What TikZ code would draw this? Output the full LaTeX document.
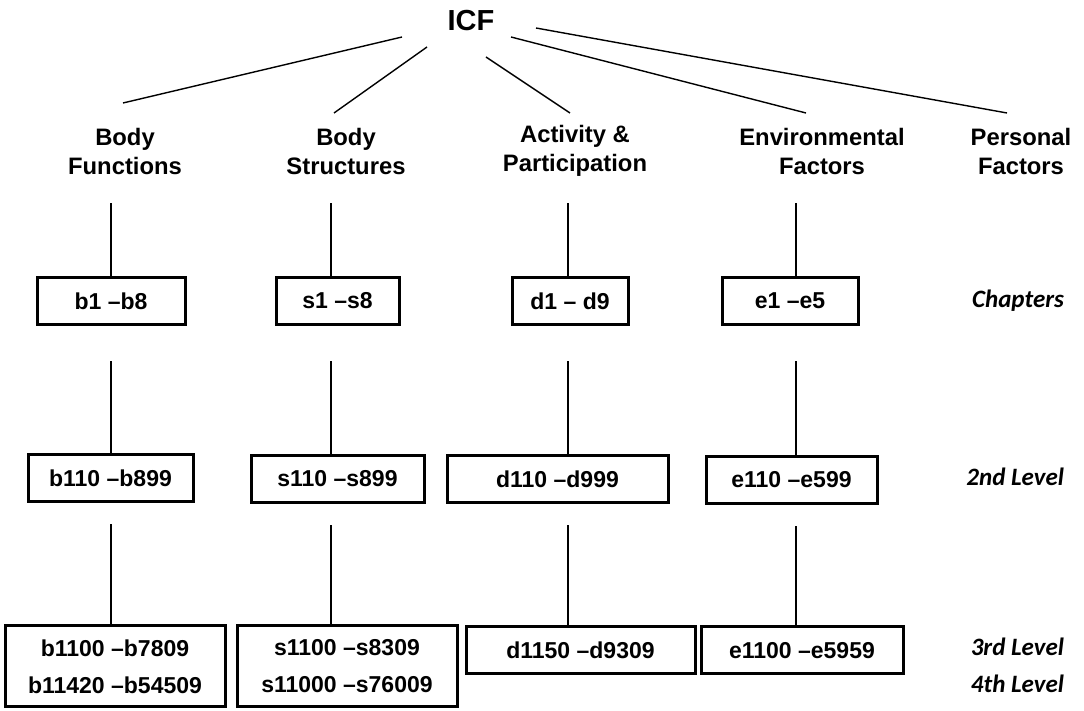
\documentclass[tikz,border=0pt]{standalone}
\usepackage{fontspec}
\setmainfont{Liberation Sans}
\newfontfamily\levelfont{Carlito}
\usepackage{tikz}
\usetikzlibrary{calc, positioning}

\begin{document}
\begin{tikzpicture}[
    x=0.5pt, y=-0.5pt,
    font=\bfseries\fontsize{11.5}{14.5}\selectfont,
    cat/.style={align=center, minimum height=52pt, inner sep=0pt, font=\bfseries\fontsize{11.9}{14.5}\selectfont},
    codebox/.style={draw, line width=1.5pt, align=center, inner sep=0pt, minimum height=23.5pt},
    twoline/.style={font=\bfseries\fontsize{11.5}{18.5}\selectfont, minimum height=40.5pt},
    lvl/.style={anchor=base east, font=\levelfont\bfseries\itshape\fontsize{12.5}{15}\selectfont},
    link/.style={line width=0.7pt}
]
    \useasboundingbox (0,0) rectangle (1084,711);

    \node (icf) at (471,21) {\fontsize{14.5}{17}\selectfont ICF};

    \node[cat] (bf) at (125,151) {Body\\Functions};
    \node[cat] (bs) at (346,151) {Body\\Structures};
    \node[cat] (ap) at (575,151) {Activity \&\\Participation};
    \node[cat] (ef) at (822,151) {Environmental\\Factors};
    \node[cat] (pf) at (1021,151) {Personal\\Factors};

    \coordinate (colb) at (111,0);
    \coordinate (cols) at (331,0);
    \coordinate (cold) at (568,0);
    \coordinate (cole) at (796,0);

    \node[codebox, minimum width=74pt] (b1) at (111,301) {b1 --b8};
    \node[codebox, minimum width=61.5pt] (s1) at (337.5,301) {s1 --s8};
    \node[codebox, minimum width=58pt] (d1) at (570,301) {d1 -- d9};
    \node[codebox, minimum width=68pt] (e1) at (790,301) {e1 --e5};

    \node[codebox, minimum width=82.5pt] (b2) at (110.5,478.5) {b110 --b899};
    \node[codebox, minimum width=86.5pt] (s2) at (337.5,479) {s110 --s899};
    \node[codebox, minimum width=110.5pt] (d2) at (557.5,479) {d110 --d999};
    \node[codebox, minimum width=85.5pt] (e2) at (791.5,480) {e110 --e599};

    \node[codebox, twoline, minimum width=110pt] (b3) at (115,666.5) {b1100 --b7809\\b11420 --b54509};
    \node[codebox, twoline, minimum width=110pt] (s3) at (347,666.5) {s1100 --s8309\\s11000 --s76009};
    \node[codebox, minimum width=114.5pt] (d3) at (580.5,650.5) {d1150 --d9309};
    \node[codebox, minimum width=101pt] (e3) at (802,650.5) {e1100 --e5959};

    \node[lvl] (chap) at (1071,308) {Chapters};
    \node[lvl] (lev2) at (1071,486) {2nd Level};
    \node[lvl] (lev3) at (1071,656) {3rd Level};
    \node[lvl] (lev4) at (1071,693) {4th Level};

    \coordinate (ibf) at (402,37);
    \coordinate (ibs) at (427,47);
    \coordinate (iap) at (486,57);
    \coordinate (ief) at (511,37);
    \coordinate (ipf) at (536,28);
    \coordinate (ebf) at (123,103);
    \coordinate (ebs) at (334,113);
    \coordinate (eap) at (570,113);
    \coordinate (eef) at (806,113);
    \coordinate (epf) at (1007,113);

    \draw[link] (ibf) -- (ebf);
    \draw[link] (ibs) -- (ebs);
    \draw[link] (iap) -- (eap);
    \draw[link] (ief) -- (eef);
    \draw[link] (ipf) -- (epf);

    \draw[link] (colb |- b1.north) -- (colb |- bf.south);
    \draw[link] (cols |- s1.north) -- (cols |- bs.south);
    \draw[link] (cold |- d1.north) -- (cold |- ap.south);
    \draw[link] (cole |- e1.north) -- (cole |- ef.south);

    \draw[link, shorten >=17.5pt] (colb |- b2.north) -- (colb |- b1.south);
    \draw[link, shorten >=17.5pt] (cols |- s2.north) -- (cols |- s1.south);
    \draw[link, shorten >=17.5pt] (cold |- d2.north) -- (cold |- d1.south);
    \draw[link, shorten >=17.5pt] (cole |- e2.north) -- (cole |- e1.south);

    \draw[link, shorten >=10.5pt] (colb |- b3.north) -- (colb |- b2.south);
    \draw[link, shorten >=10.5pt] (cols |- s3.north) -- (cols |- s2.south);
    \draw[link, shorten >=10.5pt] (cold |- d3.north) -- (cold |- d2.south);
    \draw[link, shorten >=10.5pt] (cole |- e3.north) -- (cole |- e2.south);
\end{tikzpicture}
\end{document}
